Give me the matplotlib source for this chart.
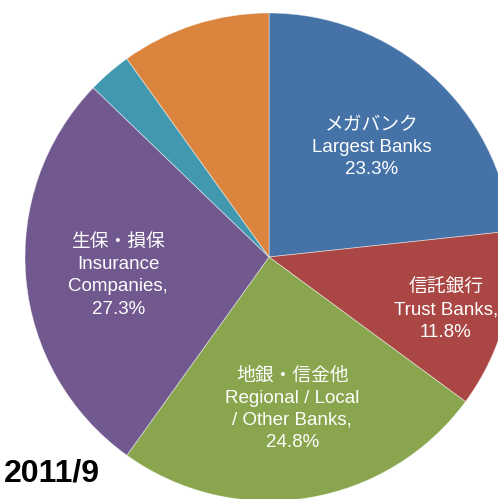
import matplotlib
matplotlib.use("Agg")
import matplotlib.pyplot as plt
import numpy as np

# Data
categories_jp = ["メガバンク", "信託銀行", "地銀・信金他", "生保・損保", "", ""]
categories_en = ["Largest Banks", "Trust Banks,", "Regional / Local\n/ Other Banks,",
                 "Insurance\nCompanies,", "", ""]
values = [23.3, 11.8, 24.8, 27.3, 2.9, 9.9]
colors = ["#4572A7", "#AA4643", "#89A54E", "#71588F", "#4198AF", "#DB843D"]
label_radius = [0.63, 0.75, 0.61, 0.62, 0, 0]
period = "2011/9"

W, H, DPI = 498, 499, 100
fig = plt.figure(figsize=(W / DPI, H / DPI), dpi=DPI)
ax = fig.add_axes([0, 0, 1, 1])

cx, cy, R = 269, 257, 244
wedges, _ = ax.pie(values, colors=colors, startangle=90, counterclock=False,
                   radius=1.0, center=(0, 0),
                   wedgeprops=dict(edgecolor=(1, 1, 1, 0.5), linewidth=0.6))
ax.set_xlim(-cx / R, (W - cx) / R)
ax.set_ylim(-(H - cy) / R, cy / R)
ax.set_aspect("auto")
ax.axis("off")

fam = ["Liberation Sans", "Noto Sans CJK JP"]
total = sum(values)
cum = 0.0
for v, jp, en, r in zip(values, categories_jp, categories_en, label_radius):
    mid = 90 - (cum + v / 2) / total * 360
    cum += v
    if not jp:
        continue
    x = r * np.cos(np.radians(mid))
    y = r * np.sin(np.radians(mid)) - 5 / R
    txt = f"{jp}\n{en}\n{v:.1f}%"
    ax.text(x, y, txt, ha="center", va="center", color="white",
            fontsize=13.5, family=fam, linespacing=1.4, multialignment="center")

fig.text(4 / W, 1 - 473 / H, period, ha="left", va="center", fontsize=23,
         fontweight="bold", family=["Liberation Sans", "DejaVu Sans"], color="black")

fig.savefig("out.png", dpi=DPI)
